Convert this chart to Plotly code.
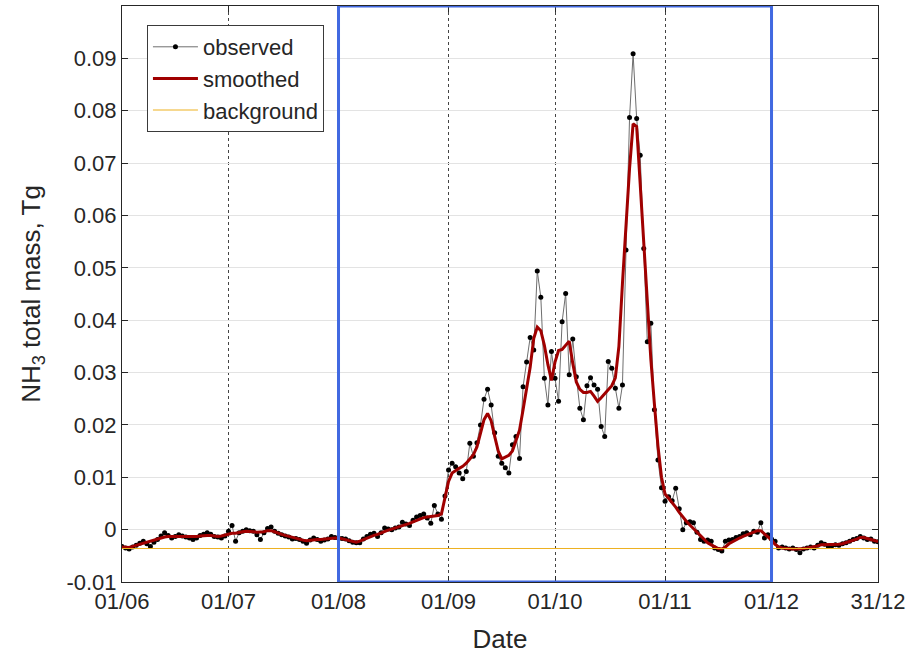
import pandas as pd
import plotly.graph_objects as go

# Daily dates, 1 June - 31 December
dates = pd.date_range("2019-06-01", "2019-12-31", freq="D")

observed = [
    # June
    -0.0032, -0.0035, -0.0037, -0.0033, -0.0030, -0.0026, -0.0022, -0.0027, -0.0032, -0.0024,
    -0.0019, -0.0012, -0.0006, -0.0011, -0.0016, -0.0013, -0.0010, -0.0012, -0.0014, -0.0016,
    -0.0019, -0.0016, -0.0011, -0.0009, -0.0006, -0.0009, -0.0013, -0.0014, -0.0016, -0.0012,
    # July
    -0.0003, 0.0008, -0.0022, -0.0006, -0.0003, 0.0000, -0.0002, -0.0003, -0.0010, -0.0019,
    -0.0006, 0.0002, 0.0005, -0.0003, -0.0007, -0.0010, -0.0012, -0.0014, -0.0018, -0.0017,
    -0.0019, -0.0022, -0.0026, -0.0020, -0.0016, -0.0019, -0.0022, -0.0020, -0.0018, -0.0013,
    -0.0015,
    # August
    -0.0016, -0.0017, -0.0018, -0.0021, -0.0024, -0.0025, -0.0025, -0.0018, -0.0013, -0.0009,
    -0.0007, -0.0013, -0.0006, 0.0003, 0.0001, 0.0000, 0.0003, 0.0005, 0.0014, 0.0011,
    0.0008, 0.0018, 0.0024, 0.0027, 0.0030, 0.0022, 0.0012, 0.0046, 0.0030, 0.0020,
    0.0064,
    # September
    0.0114, 0.0127, 0.0120, 0.0108, 0.0097, 0.0111, 0.0165, 0.0140, 0.0166, 0.0200,
    0.0249, 0.0268, 0.0238, 0.0185, 0.0140, 0.0127, 0.0118, 0.0108, 0.0162, 0.0178,
    0.0136, 0.0273, 0.0320, 0.0367, 0.0343, 0.0494, 0.0444, 0.0289, 0.0238, 0.0340,
    # October
    0.0289, 0.0245, 0.0397, 0.0451, 0.0296, 0.0364, 0.0292, 0.0232, 0.0210, 0.0275,
    0.0290, 0.0276, 0.0268, 0.0197, 0.0178, 0.0321, 0.0308, 0.0270, 0.0232, 0.0276,
    0.0534, 0.0787, 0.0909, 0.0785, 0.0715, 0.0537, 0.0359, 0.0394, 0.0229, 0.0133,
    0.0080,
    # November
    0.0054, 0.0063, 0.0055, 0.0079, 0.0040, 0.0000, 0.0013, 0.0015, 0.0013, -0.0005,
    -0.0019, -0.0022, -0.0020, -0.0022, -0.0035, -0.0038, -0.0041, -0.0022, -0.0020, -0.0019,
    -0.0015, -0.0013, -0.0008, -0.0006, -0.0010, -0.0003, -0.0005, 0.0013, -0.0016, -0.0010,
    # December
    -0.0018, -0.0022, -0.0035, -0.0033, -0.0035, -0.0037, -0.0035, -0.0038, -0.0044, -0.0037,
    -0.0035, -0.0033, -0.0035, -0.0030, -0.0025, -0.0028, -0.0032, -0.0031, -0.0029, -0.0030,
    -0.0027, -0.0025, -0.0022, -0.0019, -0.0017, -0.0013, -0.0016, -0.0019, -0.0018, -0.0022,
    -0.0023,
]

smoothed = [
    # June
    -0.0033, -0.0034, -0.0034, -0.0032, -0.0030, -0.0028, -0.0026, -0.0024, -0.0022, -0.0019,
    -0.0017, -0.0015, -0.0014, -0.0013, -0.0013, -0.0013, -0.0013, -0.0013, -0.0014, -0.0014,
    -0.0014, -0.0013, -0.0012, -0.0011, -0.0011, -0.0011, -0.0012, -0.0013, -0.0012, -0.0010,
    # July
    -0.0008, -0.0007, -0.0007, -0.0005, -0.0004, -0.0003, -0.0003, -0.0004, -0.0005, -0.0005,
    -0.0004, -0.0002, -0.0002, -0.0004, -0.0007, -0.0009, -0.0011, -0.0013, -0.0015, -0.0017,
    -0.0018, -0.0020, -0.0021, -0.0020, -0.0019, -0.0019, -0.0019, -0.0018, -0.0017, -0.0016,
    -0.0016,
    # August
    -0.0016, -0.0017, -0.0019, -0.0021, -0.0023, -0.0024, -0.0022, -0.0019, -0.0016, -0.0013,
    -0.0011, -0.0009, -0.0006, -0.0003, -0.0001, 0.0001, 0.0003, 0.0005, 0.0008, 0.0010,
    0.0012, 0.0015, 0.0018, 0.0021, 0.0023, 0.0024, 0.0025, 0.0026, 0.0027, 0.0030,
    0.0058,
    # September
    0.0092, 0.0108, 0.0113, 0.0117, 0.0121, 0.0127, 0.0135, 0.0143, 0.0158, 0.0182,
    0.0210, 0.0222, 0.0208, 0.0178, 0.0150, 0.0135, 0.0138, 0.0142, 0.0150, 0.0168,
    0.0190, 0.0229, 0.0270, 0.0310, 0.0365, 0.0387, 0.0380, 0.0352, 0.0315, 0.0285,
    # October
    0.0320, 0.0342, 0.0344, 0.0352, 0.0360, 0.0318, 0.0282, 0.0268, 0.0262, 0.0262,
    0.0264, 0.0255, 0.0245, 0.0252, 0.0260, 0.0268, 0.0275, 0.0290, 0.0350, 0.0470,
    0.0580, 0.0690, 0.0775, 0.0770, 0.0660, 0.0540, 0.0420, 0.0325, 0.0240, 0.0160,
    0.0100,
    # November
    0.0068, 0.0060, 0.0052, 0.0043, 0.0033, 0.0024, 0.0016, 0.0009, 0.0002, -0.0006,
    -0.0013, -0.0019, -0.0025, -0.0029, -0.0033, -0.0036, -0.0037, -0.0033, -0.0027, -0.0023,
    -0.0020, -0.0016, -0.0013, -0.0010, -0.0008, -0.0005, -0.0002, -0.0002, -0.0008, -0.0013,
    # December
    -0.0020, -0.0028, -0.0033, -0.0035, -0.0036, -0.0037, -0.0037, -0.0037, -0.0037, -0.0036,
    -0.0035, -0.0034, -0.0033, -0.0031, -0.0029, -0.0029, -0.0029, -0.0028, -0.0028, -0.0028,
    -0.0027, -0.0025, -0.0023, -0.0020, -0.0018, -0.0015, -0.0015, -0.0017, -0.0019, -0.0021,
    -0.0023,
]

background_level = -0.0036
background = [background_level] * len(dates)

x_tickvals = ["2019-06-01", "2019-07-01", "2019-08-01", "2019-09-01",
              "2019-10-01", "2019-11-01", "2019-12-01", "2019-12-31"]
x_ticktext = ["01/06", "01/07", "01/08", "01/09", "01/10", "01/11", "01/12", "31/12"]
y_tickvals = [-0.01, 0, 0.01, 0.02, 0.03, 0.04, 0.05, 0.06, 0.07, 0.08, 0.09]
y_ticktext = ["-0.01", "0", "0.01", "0.02", "0.03", "0.04", "0.05", "0.06", "0.07", "0.08", "0.09"]

period_start = "2019-08-01"
period_end = "2019-12-01"

FONT = "Liberation Sans, Arial, sans-serif"
TXT = "#262626"
TICK_SIZE = 22
TITLE_SIZE = 26
LEGEND_SIZE = 22

fig = go.Figure()
fig.add_trace(go.Scatter(
    x=dates, y=observed, name="observed", mode="lines+markers",
    line=dict(color="#6e6e6e", width=1),
    marker=dict(color="black", size=5),
))
fig.add_trace(go.Scatter(
    x=dates, y=smoothed, name="smoothed", mode="lines",
    line=dict(color="#a00000", width=3),
))
fig.add_trace(go.Scatter(
    x=dates, y=background, name="background", mode="lines",
    line=dict(color="#EDB120", width=1),
))

fig.add_shape(type="rect", xref="x", yref="y",
              x0=period_start, x1=period_end, y0=-0.01, y1=0.1,
              line=dict(color="#4169E1", width=3), layer="above")

fig.update_layout(
    width=912, height=660,
    margin=dict(l=122, r=34, t=6, b=78),
    paper_bgcolor="white", plot_bgcolor="white",
    font=dict(family=FONT, size=TICK_SIZE, color=TXT),
    showlegend=True,
    legend=dict(
        x=0.033, y=0.967, xanchor="left", yanchor="top",
        bgcolor="white", bordercolor="#3a3a3a", borderwidth=1,
        font=dict(family=FONT, size=LEGEND_SIZE, color=TXT),
        itemwidth=45, tracegroupgap=0,
    ),
)
fig.update_xaxes(
    type="date", range=["2019-06-01", "2019-12-31"],
    tickvals=x_tickvals, ticktext=x_ticktext,
    showgrid=True, gridcolor="#444444", griddash="dot", gridwidth=1,
    showline=True, linecolor=TXT, linewidth=1, mirror="ticks",
    ticks="inside", ticklen=6, tickcolor=TXT,
    tickfont=dict(family=FONT, size=TICK_SIZE, color=TXT),
    title=dict(text="Date", font=dict(family=FONT, size=TITLE_SIZE, color=TXT), standoff=16),
    zeroline=False,
)
fig.update_yaxes(
    range=[-0.01, 0.1],
    tickvals=y_tickvals, ticktext=y_ticktext,
    showgrid=True, gridcolor="#e3e3e3", gridwidth=1,
    showline=True, linecolor=TXT, linewidth=1, mirror="ticks",
    ticks="inside", ticklen=6, tickcolor=TXT,
    tickfont=dict(family=FONT, size=TICK_SIZE, color=TXT),
    title=dict(text="NH<sub>3</sub> total mass, Tg",
               font=dict(family=FONT, size=TITLE_SIZE, color=TXT), standoff=18),
    zeroline=False,
)

fig.write_html("out.html")
